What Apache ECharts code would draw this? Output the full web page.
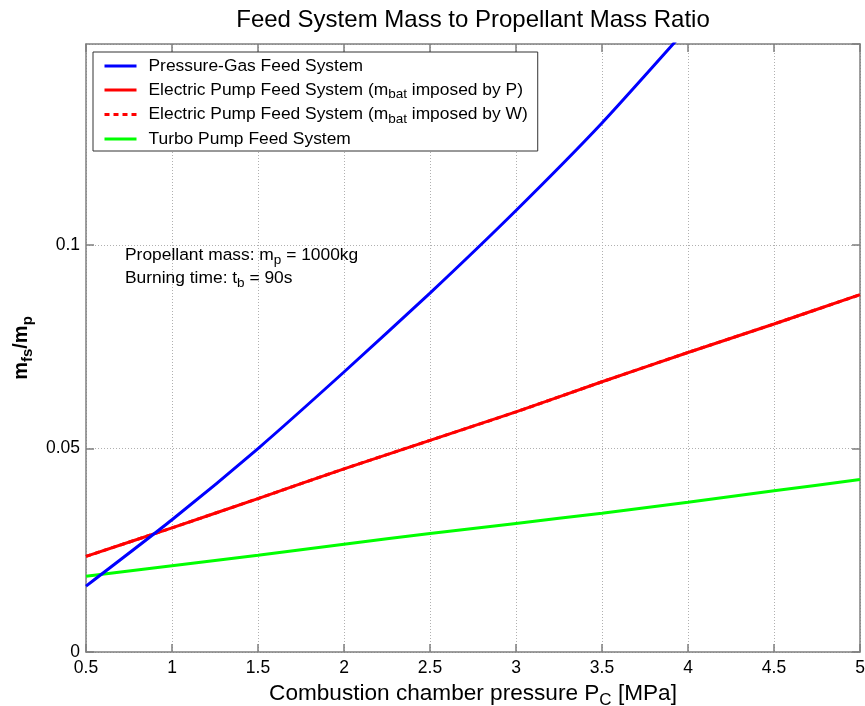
<!DOCTYPE html>
<html>
<head>
<meta charset="utf-8">
<script src="https://cdn.jsdelivr.net/npm/echarts@6/dist/echarts.min.js"></script>
<style>html,body{margin:0;padding:0;background:#fff;overflow:hidden}#c{width:865px;height:706px}</style>
</head>
<body>
<div id="c"></div>
<script>
// chamber pressure (MPa)
const pressure = [0.5, 1, 1.5, 2, 2.5, 3, 3.5, 4, 4.5, 5];
// feed system mass / propellant mass
const pressureGas = [0.0162, 0.0325, 0.0500, 0.0688, 0.0882, 0.1085, 0.1300, 0.1535, null, null];
const electricP   = [0.0235, 0.0305, 0.0377, 0.0450, 0.0520, 0.0590, 0.0664, 0.0736, 0.0806, 0.0878];
const electricW   = [0.0235, 0.0305, 0.0377, 0.0450, 0.0520, 0.0590, 0.0664, 0.0736, 0.0806, 0.0878];
const turboPump   = [0.0186, 0.0212, 0.0238, 0.0265, 0.0291, 0.0316, 0.0341, 0.0368, 0.0396, 0.0424];
const yTicks = [0, 0.05, 0.1];
const xTicks = [0.5, 1, 1.5, 2, 2.5, 3, 3.5, 4, 4.5, 5];

const seriesNames = [
  'Pressure-Gas Feed System',
  'Electric Pump Feed System (mbat imposed by P)',
  'Electric Pump Feed System (mbat imposed by W)',
  'Turbo Pump Feed System'
];
const legendLabels = {
  'Pressure-Gas Feed System': 'Pressure-Gas Feed System',
  'Electric Pump Feed System (mbat imposed by P)': 'Electric Pump Feed System (m{s|bat} imposed by P)',
  'Electric Pump Feed System (mbat imposed by W)': 'Electric Pump Feed System (m{s|bat} imposed by W)',
  'Turbo Pump Feed System': 'Turbo Pump Feed System'
};

const FONT = '"Liberation Sans", Arial, Helvetica, sans-serif';
const pair = arr => pressure.map((x, i) => [x, arr[i]]).filter(p => p[1] !== null);

const el = document.getElementById('c');
const chart = echarts.init(el, null, {renderer: 'canvas'});
const frame = '#7f7f7f';
chart.setOption({
  backgroundColor: '#ffffff',
  animation: false,
  textStyle: {fontFamily: FONT},
  title: {
    text: 'Feed System Mass to Propellant Mass Ratio',
    left: 468, top: 3, textAlign: 'center',
    textStyle: {fontFamily: FONT, fontSize: 24, fontWeight: 'normal', color: '#000'}
  },
  grid: {left: 86, right: 5, top: 44, bottom: 54, containLabel: false, outerBoundsMode: 'none'},
  legend: {
    orient: 'vertical',
    left: 93, top: 52,
    padding: [3, 10, 1, 10],
    itemGap: 2,
    itemWidth: 32, itemHeight: 14,
    backgroundColor: '#fff',
    borderColor: '#333', borderWidth: 1,
    data: seriesNames,
    formatter: n => legendLabels[n],
    itemStyle: {opacity: 0},
    lineStyle: {width: 3},
    textStyle: {
      fontFamily: FONT, fontSize: 17.4, color: '#000', lineHeight: 22, padding: [0, 0, 0, 7],
      rich: {s: {fontFamily: FONT, fontSize: 13.5, color: '#000', padding: [9, 0, 0, 0]}}
    },
    selectedMode: false
  },
  xAxis: [{
    type: 'value', min: 0.5, max: 5, interval: 0.5, position: 'bottom',
    name: '{n|Combustion chamber pressure P}{s|C}{n| [MPa]}',
    nameLocation: 'middle', nameGap: 25,
    nameTextStyle: {
      rich: {
        n: {fontFamily: FONT, fontSize: 22.6, color: '#000'},
        s: {fontFamily: FONT, fontSize: 17, color: '#000', padding: [13, 0, 0, 0]}
      }
    },
    axisLine: {show: true, onZero: false, lineStyle: {color: frame, width: 1.5}},
    axisTick: {show: true, inside: true, length: 8, lineStyle: {color: frame, width: 1.5}},
    axisLabel: {color: '#000', fontSize: 17.5, fontFamily: FONT, margin: 7,
      formatter: v => (xTicks.indexOf(v) >= 0 ? String(v) : '')},
    splitLine: {show: true, lineStyle: {color: '#b0b0b0', type: [1, 2], width: 1}}
  }, {
    type: 'value', min: 0.5, max: 5, interval: 0.5, position: 'top',
    axisLine: {show: true, onZero: false, lineStyle: {color: frame, width: 1.5}},
    axisTick: {show: true, inside: true, length: 8, lineStyle: {color: frame, width: 1.5}},
    axisLabel: {show: false}, splitLine: {show: false}
  }],
  yAxis: [{
    type: 'value', min: 0, max: 0.1494, interval: 0.05, position: 'left',
    name: '{n|m}{s|fs}{n|/m}{s|p}',
    nameLocation: 'middle', nameGap: 48, nameRotate: 90,
    nameTextStyle: {
      rich: {
        n: {fontFamily: FONT, fontSize: 20, fontWeight: 'bold', color: '#000'},
        s: {fontFamily: FONT, fontSize: 15, fontWeight: 'bold', color: '#000', padding: [12, 0, 0, 0]}
      }
    },
    axisLine: {show: true, onZero: false, lineStyle: {color: frame, width: 1.5}},
    axisTick: {show: true, inside: true, length: 8, lineStyle: {color: frame, width: 1.5}},
    axisLabel: {color: '#000', fontSize: 17.5, fontFamily: FONT, margin: 6, showMaxLabel: false,
      formatter: v => (yTicks.indexOf(v) >= 0 ? String(v) : '')},
    splitLine: {show: true, lineStyle: {color: '#b0b0b0', type: [1, 2], width: 1}}
  }, {
    type: 'value', min: 0, max: 0.1494, interval: 0.05, position: 'right',
    axisLine: {show: true, onZero: false, lineStyle: {color: frame, width: 1.5}},
    axisTick: {show: true, inside: true, length: 8, lineStyle: {color: frame, width: 1.5}},
    axisLabel: {show: false}, splitLine: {show: false}
  }],
  graphic: [{
    type: 'text', left: 125, top: 247, z: 10,
    style: {
      text: 'Propellant mass: m{s|p} = 1000kg',
      font: '17.4px ' + FONT, fill: '#000',
      rich: {s: {fontFamily: FONT, fontSize: 13.5, fill: '#000', padding: [10, 0, 0, 0]}}
    }
  }, {
    type: 'text', left: 125, top: 270, z: 10,
    style: {
      text: 'Burning time: t{s|b} = 90s',
      font: '17.4px ' + FONT, fill: '#000',
      rich: {s: {fontFamily: FONT, fontSize: 13.5, fill: '#000', padding: [10, 0, 0, 0]}}
    }
  }],
  series: [{
    name: seriesNames[0], type: 'line', data: pair(pressureGas), symbol: 'none', smooth: 0.2,
    lineStyle: {color: '#0000ff', width: 3}, itemStyle: {color: '#0000ff'}, clip: true, z: 4
  }, {
    name: seriesNames[1], type: 'line', data: pair(electricP), symbol: 'none', smooth: 0.2,
    lineStyle: {color: '#ff0000', width: 3}, itemStyle: {color: '#ff0000'}, clip: true, z: 3
  }, {
    name: seriesNames[2], type: 'line', data: pair(electricW), symbol: 'none', smooth: 0.2,
    lineStyle: {color: '#ff0000', width: 3, type: [5, 4]}, itemStyle: {color: '#ff0000'}, clip: true, z: 2
  }, {
    name: seriesNames[3], type: 'line', data: pair(turboPump), symbol: 'none', smooth: 0.2,
    lineStyle: {color: '#00ff00', width: 3}, itemStyle: {color: '#00ff00'}, clip: true, z: 3
  }]
});
</script>
</body>
</html>
